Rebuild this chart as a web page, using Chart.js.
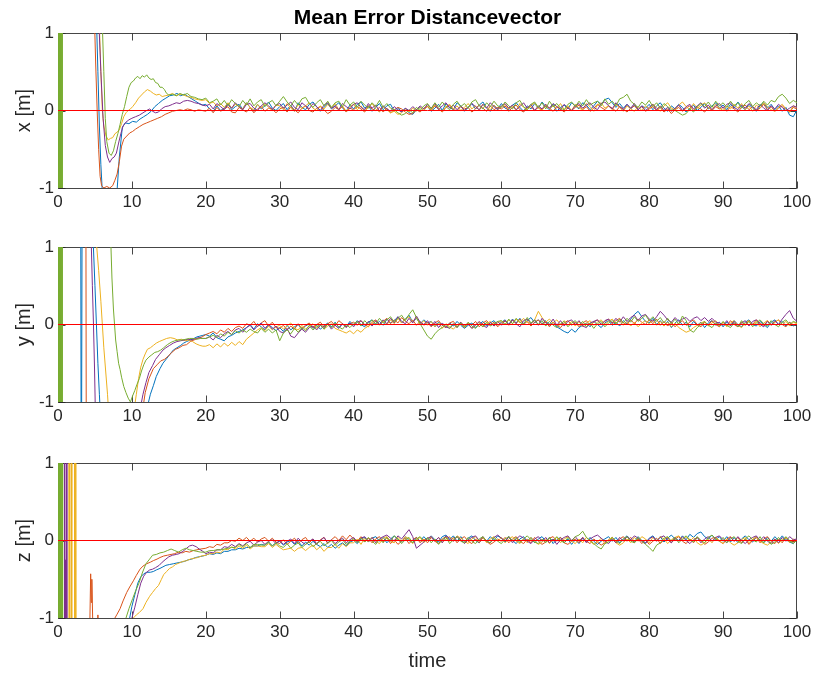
<!DOCTYPE html>
<html>
<head>
<meta charset="utf-8">
<script src="https://cdn.jsdelivr.net/npm/chart.js@4/dist/chart.umd.min.js"></script>
<style>
  html, body { margin: 0; padding: 0; background: #fff; }
  #wrap { position: relative; width: 818px; height: 677px; overflow: hidden; }
  #wrap canvas { position: absolute; left: 0; }
</style>
</head>
<body>
<div id="wrap">
  <canvas id="panelX" width="818" height="225" style="top:0px;width:818px;height:225px"></canvas>
  <canvas id="panelY" width="818" height="220" style="top:225px;width:818px;height:220px"></canvas>
  <canvas id="panelZ" width="818" height="232" style="top:445px;width:818px;height:232px"></canvas>
</div>
<script>
// ---- axis ticks and texts ----
const timeTicks = [0, 10, 20, 30, 40, 50, 60, 70, 80, 90, 100];
const errTicks = [-1, 0, 1];
const titleText = 'Mean Error Distancevector';
const axisLabels = ['x [m]', 'y [m]', 'z [m]'];
const timeLabel = 'time';

// ---- start-up phase (t < 20 s): [time, error in m]; values beyond +-1 leave the axes ----
const startBurst = [[0,3],[0.05,-3],[0.1,3],[0.15,-3],[0.2,3],[0.25,-3],[0.3,3],[0.35,-3],[0.4,3],[0.45,-3],[0.5,3],[0.55,-3],[0.6,3]];

const xBlueEarly = [[0.3,3],[5.0,3],[5.2,1.2],[5.4,0.5],[5.6,-0.2],[5.8,-0.7],[6.0,-1.05],[6.5,-1.3],[7.2,-1.35],[7.7,-1.2],[8.0,-1.02],[8.3,-0.6],[8.7,-0.22],[9.1,-0.16],[9.6,-0.17],[10.1,-0.14],[10.6,-0.15],[11.1,-0.11],[11.6,-0.08],[12.1,-0.05],[12.6,-0.01],[13.1,0.05],[13.6,0.09],[14.1,0.13],[14.6,0.16],[15.1,0.19],[15.6,0.2],[16.1,0.22],[16.6,0.19],[17.1,0.21],[17.6,0.18],[18.1,0.15],[18.6,0.12],[19.1,0.09],[19.6,0.07]];
const xOrangeEarly = [[0.3,3],[4.7,3],[4.9,1.3],[5.1,0.6],[5.3,0.0],[5.5,-0.5],[5.7,-0.85],[5.9,-0.97],[6.2,-1.0],[6.6,-0.98],[7.0,-1.0],[7.4,-0.97],[7.7,-0.9],[8.0,-0.82],[8.3,-0.66],[8.6,-0.46],[8.9,-0.37],[9.3,-0.33],[9.7,-0.29],[10.1,-0.27],[10.5,-0.24],[11.0,-0.21],[11.5,-0.18],[12.0,-0.16],[12.5,-0.14],[13.0,-0.12],[13.5,-0.1],[14.0,-0.08],[14.5,-0.05],[15.0,-0.03],[15.5,-0.01],[16.0,0.0],[16.5,0.01],[17.0,0.0],[17.5,0.02],[18.0,0.01],[18.5,-0.01],[19.0,0.01],[19.5,0.0]];
const xYellowEarly = [[0.3,3],[5.4,3],[5.6,1.1],[5.8,0.5],[6.0,0.0],[6.2,-0.2],[6.5,-0.33],[6.8,-0.38],[7.1,-0.36],[7.4,-0.35],[7.7,-0.3],[8.0,-0.28],[8.3,-0.25],[8.6,-0.17],[8.9,-0.08],[9.2,-0.03],[9.5,0.0],[9.8,0.02],[10.1,0.05],[10.5,0.1],[10.9,0.16],[11.3,0.2],[11.7,0.24],[12.1,0.27],[12.5,0.25],[12.9,0.22],[13.3,0.2],[13.7,0.21],[14.1,0.18],[14.5,0.19],[15.0,0.2],[15.5,0.22],[16.0,0.19],[16.5,0.21],[17.0,0.2],[17.5,0.18],[18.0,0.17],[18.5,0.15],[19.0,0.14],[19.5,0.13]];
const xPurpleEarly = [[0.3,3],[5.3,3],[5.5,1.2],[5.8,0.5],[6.1,-0.1],[6.4,-0.45],[6.7,-0.6],[7.0,-0.67],[7.3,-0.62],[7.6,-0.6],[7.9,-0.55],[8.2,-0.42],[8.5,-0.3],[8.8,-0.2],[9.2,-0.15],[9.6,-0.12],[10.0,-0.1],[10.5,-0.08],[11.0,-0.06],[11.5,-0.03],[12.0,0.0],[12.4,0.02],[12.8,-0.01],[13.2,-0.03],[13.6,-0.02],[14.0,0.02],[14.5,0.05],[15.0,0.06],[15.5,0.08],[16.0,0.1],[16.5,0.09],[17.0,0.12],[17.5,0.13],[18.0,0.12],[18.5,0.1],[19.0,0.09],[19.5,0.07]];
const xGreenEarly = [...startBurst, [5.8,3],[6.0,1.1],[6.2,0.5],[6.4,-0.1],[6.6,-0.4],[6.9,-0.55],[7.2,-0.58],[7.5,-0.52],[7.8,-0.4],[8.1,-0.3],[8.4,-0.18],[8.7,-0.05],[9.0,0.05],[9.3,0.18],[9.6,0.3],[9.9,0.36],[10.2,0.38],[10.5,0.42],[10.8,0.44],[11.1,0.41],[11.4,0.45],[11.7,0.43],[12.0,0.46],[12.3,0.42],[12.6,0.4],[12.9,0.41],[13.2,0.36],[13.5,0.35],[13.8,0.3],[14.1,0.3],[14.4,0.27],[14.7,0.22],[15.0,0.2],[15.5,0.21],[16.0,0.19],[16.5,0.22],[17.0,0.2],[17.5,0.22],[18.0,0.18],[18.5,0.17],[19.0,0.15],[19.5,0.14]];

const yBlueEarly = [[0.3,3],[3.05,3],[3.15,-3],[3.3,3],[4.6,3],[4.75,1.1],[5.0,0.5],[5.2,0.0],[5.4,-0.5],[5.6,-0.9],[5.8,-1.3],[6.2,-3],[11.6,-3],[12.2,-1.02],[12.5,-0.9],[12.9,-0.79],[13.3,-0.67],[13.8,-0.57],[14.2,-0.5],[14.7,-0.44],[15.1,-0.39],[15.6,-0.33],[16.1,-0.3],[16.6,-0.27],[17.0,-0.24],[17.4,-0.22],[17.9,-0.2],[18.4,-0.18],[18.8,-0.16],[19.2,-0.15],[19.6,-0.14]];
const yOrangeEarly = [[0.3,3],[3.75,3],[3.85,-3],[10.5,-3],[11.3,-1.2],[11.8,-0.88],[12.3,-0.7],[12.9,-0.57],[13.4,-0.52],[13.9,-0.47],[14.4,-0.45],[14.9,-0.41],[15.4,-0.36],[15.9,-0.32],[16.4,-0.3],[16.9,-0.27],[17.4,-0.26],[17.9,-0.22],[18.4,-0.2],[18.9,-0.18],[19.5,-0.16]];
const yYellowEarly = [[0.3,3],[5.05,3],[5.2,1.05],[5.5,0.7],[5.8,0.3],[6.0,0.0],[6.2,-0.3],[6.45,-0.6],[6.7,-0.9],[6.9,-1.2],[7.3,-3],[9.5,-3],[10.3,-1.1],[10.6,-0.9],[10.9,-0.7],[11.2,-0.55],[11.5,-0.45],[11.8,-0.38],[12.1,-0.32],[12.5,-0.3],[12.9,-0.27],[13.3,-0.24],[13.7,-0.22],[14.2,-0.2],[14.7,-0.18],[15.2,-0.17],[15.7,-0.18],[16.2,-0.2],[16.7,-0.19],[17.2,-0.21],[17.7,-0.2],[18.2,-0.22],[18.7,-0.25],[19.2,-0.27],[19.6,-0.28]];
const yPurpleEarly = [[0.3,3],[4.4,3],[4.5,1.05],[4.65,0.5],[4.8,0.0],[4.95,-0.6],[5.05,-1.1],[5.3,-3],[10.5,-3],[11.2,-1.05],[11.5,-0.9],[11.9,-0.75],[12.3,-0.62],[12.8,-0.53],[13.2,-0.45],[13.7,-0.39],[14.2,-0.33],[14.6,-0.3],[15.1,-0.27],[15.6,-0.24],[16.1,-0.22],[16.6,-0.21],[17.1,-0.2],[17.6,-0.19],[18.1,-0.2],[18.6,-0.18],[19.1,-0.17],[19.5,-0.18]];
const yGreenEarly = [...startBurst, [7.0,3],[7.15,1.05],[7.3,0.6],[7.5,0.2],[7.65,0.0],[7.8,-0.2],[8.0,-0.35],[8.2,-0.5],[8.4,-0.58],[8.6,-0.68],[8.9,-0.8],[9.2,-0.88],[9.5,-0.95],[9.8,-1.0],[10.1,-0.92],[10.4,-0.85],[10.7,-0.77],[11.0,-0.7],[11.3,-0.6],[11.6,-0.52],[11.9,-0.46],[12.3,-0.42],[12.7,-0.39],[13.1,-0.36],[13.5,-0.35],[13.9,-0.33],[14.3,-0.3],[14.8,-0.26],[15.3,-0.23],[15.8,-0.21],[16.3,-0.2],[16.8,-0.2],[17.3,-0.19],[17.8,-0.18],[18.3,-0.18],[18.8,-0.19],[19.3,-0.18]];

const zBlueEarly = [[0.2,3],[0.4,-3],[9.2,-3],[9.7,-1.0],[10.0,-0.85],[10.4,-0.7],[10.8,-0.55],[11.2,-0.47],[11.6,-0.43],[12.0,-0.41],[12.5,-0.41],[12.9,-0.4],[13.3,-0.38],[13.8,-0.36],[14.2,-0.34],[14.6,-0.32],[15.1,-0.31],[15.6,-0.3],[16.1,-0.29],[16.6,-0.28],[17.1,-0.27],[17.6,-0.25],[18.1,-0.24],[18.6,-0.22],[19.1,-0.21],[19.6,-0.2]];
const zOrangeEarly = [[0.25,3],[0.45,-3],[4.2,-3],[4.32,-1.0],[4.42,-0.43],[4.5,-0.8],[4.58,-0.5],[4.7,-1.05],[4.8,-3],[5.3,-3],[5.4,-0.96],[5.5,-3],[7.3,-3],[7.7,-1.0],[8.0,-0.95],[8.4,-0.88],[8.8,-0.78],[9.3,-0.67],[9.7,-0.6],[10.2,-0.52],[10.6,-0.45],[11.1,-0.37],[11.5,-0.33],[12.0,-0.3],[12.5,-0.28],[12.9,-0.26],[13.4,-0.24],[13.8,-0.22],[14.3,-0.2],[14.8,-0.19],[15.3,-0.18],[15.8,-0.17],[16.3,-0.15],[16.8,-0.16],[17.3,-0.14],[17.8,-0.15],[18.3,-0.13],[18.8,-0.12],[19.3,-0.11]];
const zYellowEarly = [[0.3,3],[1.45,3],[1.5,-3],[1.55,3],[1.6,-3],[1.75,-3],[1.8,3],[1.85,-3],[1.9,3],[2.2,3],[2.25,-3],[2.3,3],[2.35,-3],[2.4,3],[2.45,-3],[9.9,-3],[10.2,-1.0],[10.6,-0.96],[11.0,-0.93],[11.5,-0.88],[11.9,-0.8],[12.4,-0.72],[12.8,-0.67],[13.2,-0.62],[13.6,-0.58],[14.0,-0.5],[14.3,-0.44],[14.7,-0.4],[15.1,-0.36],[15.5,-0.34],[15.9,-0.31],[16.4,-0.29],[16.9,-0.27],[17.4,-0.26],[17.9,-0.24],[18.4,-0.23],[18.9,-0.22],[19.4,-0.2]];
const zPurpleEarly = [[0.3,3],[0.85,3],[0.9,-3],[1.0,-0.25],[1.05,-3],[1.15,3],[1.2,-3],[9.6,-3],[10.0,-1.0],[10.4,-0.86],[10.8,-0.7],[11.2,-0.55],[11.6,-0.46],[12.0,-0.41],[12.4,-0.38],[12.8,-0.37],[13.2,-0.35],[13.7,-0.32],[14.1,-0.28],[14.6,-0.24],[15.0,-0.21],[15.5,-0.19],[16.0,-0.18],[16.4,-0.17],[16.9,-0.14],[17.4,-0.1],[17.8,-0.07],[18.2,-0.06],[18.7,-0.08],[19.1,-0.11],[19.6,-0.14]];
const zGreenEarly = [...startBurst, [0.65,-3],[8.8,-3],[9.2,-1.0],[9.6,-0.88],[10.1,-0.75],[10.5,-0.65],[11.0,-0.54],[11.4,-0.42],[11.9,-0.3],[12.4,-0.24],[12.8,-0.19],[13.3,-0.18],[13.8,-0.16],[14.3,-0.15],[14.8,-0.13],[15.3,-0.11],[15.8,-0.13],[16.3,-0.15],[16.8,-0.12],[17.3,-0.1],[17.8,-0.12],[18.3,-0.13],[18.8,-0.14],[19.3,-0.15]];

// ---- settled phase: errors in cm, one sample every 0.5 s from t = 20 s to t = 100 s ----
const SETTLED_START = 20;
const SETTLED_STEP = 0.5;

const xBlueCm = [8,2,-1,6,0,3,9,1,5,8,2,10,4,-1,8,2,6,11,3,0, 5,9,1,7,-1,10,4,1,8,11,5,-1,4,9,2,6,10,3,-1,7, 2,8,11,3,6,-1,4,9,1,6,8,-1,4,-2,3,-3,-5,1,4,0, 6,-1,3,8,0,9,4,1,10,6,-1,4,9,2,7,11,3,-1,7,2, 9,3,1,7,10,4,-1,6,2,9,3,11,5,1,8,-1,4,7,2,10, 6,2,10,7,1,6,12,8,14,16,10,4,9,3,8,2,7,1,6,3, 8,1,6,10,3,-1,6,2,8,4,-2,3,7,0,4,9,2,6,10,3, 7,1,8,3,11,5,1,8,3,-1,6,10,3,8,1,6,-1,4,-6,-8, 1];
const xOrangeCm = [-1,3,-3,4,-1,2,5,-2,-3,4,1,-2,4,-3,2,5,-1,3,2,-3, 2,4,-2,5,1,-3,3,6,0,-2,3,5,1,-4,-1,4,1,5,-2,3, 1,5,2,-2,6,2,0,4,-2,3,-3,1,4,2,-2,-5,-4,1,-2,3, 5,0,6,2,-2,4,7,1,0,5,2,4,-2,2,7,3,-1,6,1,4, 2,6,-1,4,7,1,-2,4,5,0,4,1,6,3,-1,5,2,-2,4,0, 4,7,1,5,-1,3,8,4,1,6,3,-1,5,2,-2,3,6,1,5,-1, 2,5,0,4,-2,2,-4,1,4,-1,3,6,0,4,2,-2,4,0,5,2, 4,-1,5,2,-2,4,7,1,5,0,3,8,1,5,-1,3,6,2,-2,4, 2];
const xYellowCm = [14,9,11,6,9,4,10,3,8,5,2,10,4,1,8,3,9,4,0,7, 6,1,9,3,-1,8,2,6,10,3,0,6,2,8,3,9,1,6,-1,5, 8,1,6,-1,4,9,2,-2,5,1,-3,-1,-5,-3,2,-2,3,-1,4,0, 6,1,7,2,-1,5,8,2,6,0,4,9,2,6,0,8,4,1,7,1, 5,8,2,6,0,9,4,1,6,10,3,0,8,2,6,3,9,1,6,0, 8,3,1,9,5,-1,7,10,3,6,1,8,4,-1,6,2,-1,5,0,6, 2,8,4,-1,6,10,3,1,7,11,5,1,9,3,7,10,4,1,8,3, 0,6,2,8,3,9,1,6,-1,7,3,10,5,1,-1,4,8,2,-2,6, 4];
const xPurpleCm = [6,8,2,9,5,1,8,3,10,5,1,8,9,3,0,6,10,6,1,7, 9,3,7,11,4,1,10,6,2,9,5,0,7,10,3,6,1,9,5,2, 8,10,4,1,9,3,7,-1,6,2,-1,5,1,-2,3,0,5,1,6,2, 8,3,9,1,6,10,3,7,1,6,0,4,9,5,1,8,3,10,5,1, 6,9,3,7,1,5,10,3,8,0,6,2,8,3,9,5,1,8,3,0, 6,9,3,7,10,4,1,9,11,6,2,10,5,1,8,3,9,1,6,0, 4,8,1,6,0,4,-1,3,7,0,5,8,2,6,10,3,7,1,6,9, 3,8,10,4,1,7,3,9,5,1,8,3,0,6,2,8,4,0,3,6, 4];
const xGreenCm = [16,10,12,15,7,13,6,14,9,5,13,7,15,6,11,14,5,10,13,6, 12,18,11,6,13,7,15,17,9,4,10,14,6,12,4,10,12,5,14,7, 11,4,12,7,3,10,5,13,4,9,3,1,-3,-6,-4,1,-3,4,0,6, 9,2,10,4,11,5,1,8,12,5,9,3,11,14,6,2,10,5,12,6, 4,11,6,2,10,13,5,1,8,11,4,10,2,12,5,9,3,1,8,11, 5,12,6,14,7,10,12,6,15,8,12,6,15,17,21,12,8,4,11,7, 13,5,10,3,9,5,1,0,-3,-6,-4,2,-2,5,9,5,11,4,12,6, 10,4,12,6,10,3,9,13,5,10,6,12,7,13,11,18,21,16,9,13, 10];

const yBlueCm = [-13,-15,-11,-17,-19,-21,-16,-14,-11,-9,-7,-4,0,-6,1,-3,-7,0,-4,-8, -4,-9,-1,-7,-3,0,-6,-2,1,-5,-1,-6,-2,2,-3,3,-4,1,-3,4, -1,5,0,-3,3,6,0,4,-1,7,2,5,10,2,7,12,3,8,1,6, 2,4,-3,3,-1,-4,2,-2,4,-1,-5,-1,2,-4,0,4,-2,2,5,-1, 3,6,0,7,2,8,1,5,9,2,6,1,5,-1,3,-3,-6,-9,-11,-6, -10,-4,-1,2,-3,4,0,-4,2,5,-1,3,-2,5,1,7,13,17,10,4, 2,8,0,5,-2,4,-4,2,6,-1,3,-3,4,-1,3,-4,2,5,-1,3, -3,3,-1,5,0,-3,3,6,0,-2,4,0,-4,3,6,0,4,-2,3,-2, 1];
const yOrangeCm = [-13,-11,-9,-12,-7,-10,-5,-9,-4,-2,-5,1,-1,4,-3,2,5,-2,3,-4, -5,-1,-7,-2,-6,1,-5,-1,2,-4,0,3,-3,1,4,-2,5,1,-3,1, 3,-1,5,0,-3,3,6,0,4,8,1,6,2,9,4,1,6,-1,4,-1, 3,-3,2,5,-1,-4,2,4,-3,1,-4,2,-1,4,-3,2,5,-1,3,-3, 2,5,-1,6,1,7,0,4,-2,3,6,0,4,-3,3,-1,-4,2,5,-1, 3,-3,2,5,-1,3,6,0,4,7,1,5,8,2,0,6,1,7,3,0, 6,1,7,-1,4,-2,3,-3,2,5,-1,3,6,0,-3,3,-1,5,0,-3, 3,-2,5,0,-3,3,-1,5,0,6,2,-2,5,0,3,6,0,-3,3,-1, 1];
const yYellowCm = [-28,-26,-30,-25,-29,-24,-28,-23,-27,-22,-26,-19,-15,-11,-7,-4,-8,-2,-7,-3, -1,-6,-2,2,-5,-7,-1,-6,-2,1,-5,-1,-6,-2,1,-5,-7,-9,-11,-8, -12,-7,-10,-5,-2,1,4,-1,5,0,6,1,8,2,7,10,3,9,0,5, -1,4,-3,2,-5,1,-3,-6,-1,3,-4,1,-5,-1,3,-3,1,4,-2,2, 5,0,6,1,7,2,8,3,1,6,17,9,3,7,2,6,0,5,-1,4, -2,4,-3,2,5,-1,3,6,0,4,7,1,5,-1,4,-2,3,-3,2,5, 1,6,-1,4,-2,3,-3,2,-4,-7,-10,-8,-4,-1,2,4,-2,2,5,-1, 3,-3,2,5,-1,-4,2,5,-1,4,-3,2,5,-1,3,6,0,4,-2,3, 1];
const yPurpleCm = [-18,-16,-20,-14,-17,-12,-9,-13,-7,-5,-10,-4,-1,-7,-2,2,-5,0,-6,-2, -9,-11,-5,-15,-17,-11,-6,-10,-4,-2,-7,-1,-5,1,-6,-1,-5,1,-4,2, -3,3,5,-1,4,-2,5,0,6,1,8,2,10,4,1,8,2,11,3,0, 5,-2,4,-4,2,-3,-5,1,-4,3,-2,1,-5,-1,4,-1,-4,3,-2,4, -1,5,0,6,1,-3,5,7,1,6,-1,8,2,0,7,-1,5,-2,4,6, 0,5,-2,-4,2,4,6,0,5,7,2,8,3,10,4,9,12,5,11,13, 7,4,10,17,12,6,3,9,4,7,9,4,8,10,5,9,4,8,3,2, -1,5,-2,4,-3,2,5,-2,4,6,0,-3,4,-1,5,0,7,13,18,8, 4];
const yGreenCm = [-18,-16,-14,-17,-12,-15,-10,-13,-8,-11,-7,-10,-6,-9,-11,-5,-10,-6,-11,-7, -21,-11,-7,-12,-5,-10,-4,-8,-1,-7,-3,0,-6,1,-4,2,-3,-6,0,-4, 1,4,-2,5,0,6,1,8,2,6,10,3,8,12,5,13,19,9,1,-7, -15,-19,-12,-7,-4,0,-5,1,-4,2,-3,3,-2,-5,1,-3,3,-2,1,4, 5,0,7,1,8,3,0,9,2,6,0,5,-2,4,-1,-4,1,4,-3,2, 5,-1,4,-3,2,-5,1,4,-3,2,5,1,7,2,8,3,10,4,8,12, 5,10,4,9,2,8,1,7,0,11,5,-7,-10,-4,0,4,-1,-4,2,-2, 4,-1,-4,2,-3,5,-1,4,-3,2,6,1,-2,5,0,-3,3,6,0,4, 2];

const zBlueCm = [-19,-17,-18,-16,-17,-14,-14,-12,-12,-10,-11,-9,-9,-7,-7,-5,-6,-2,-7,-3, -1,-6,-2,0,-5,-1,-7,-2,-6,-1,-5,-8,-4,-9,-5,-10,-6,-3,-7,-2, 0,-4,2,4,-2,3,5,-1,4,-3,2,6,1,-2,5,0,-3,4,-1,5, 0,6,1,-2,5,7,1,6,-1,5,-2,3,6,0,-3,4,-1,5,0,6, 3,-2,5,0,-4,2,5,-1,4,-3,2,5,-1,4,-4,1,4,-3,2,-5, 1,-4,3,-2,4,-1,-5,-1,2,5,-1,4,-3,2,6,1,-2,5,0,-3, 3,6,0,5,-2,3,7,2,0,6,1,8,4,9,11,5,2,7,1,5, -1,5,-2,4,-3,2,6,1,-2,5,0,-3,4,-1,5,0,6,1,-2,-4, 1];
const zOrangeCm = [-10,-8,-9,-5,-6,-3,-3,0,-1,3,0,4,-1,3,-2,2,4,-1,3,-2, -4,1,-5,-1,3,-4,1,4,-3,2,-5,1,4,-4,1,5,0,6,1,7, 2,-1,5,-2,3,-3,2,5,-2,4,-4,1,-5,-1,3,-4,1,4,-3,2, -3,4,-1,-4,2,5,-1,4,-3,2,5,-1,-4,2,-3,4,-1,-5,-2,2, -1,4,-3,2,5,-1,-4,2,-3,4,-1,-5,-2,3,5,-1,4,-3,-5,-1, 2,-3,4,-1,-4,2,-2,-6,-3,1,4,-3,2,5,-1,4,-3,2,-4,1, -5,-1,3,-4,1,4,-3,2,5,-1,-4,2,-3,4,0,-5,-2,3,4,-1, -4,2,5,-1,4,-3,2,-5,0,4,-3,2,5,-1,-4,2,-3,4,-1,-2, 0];
const zYellowCm = [-19,-17,-17,-15,-16,-11,-12,-8,-11,-7,-10,-6,-11,-7,-7,-8,-8,-4,-9,-5, -9,-12,-11,-10,-14,-10,-9,-13,-9,-6,-12,-8,-14,-9,-9,-5,-10,-4,-8,-3, -3,2,-5,3,-2,4,-1,-4,3,5,-1,-3,4,-1,5,2,-4,1,4,-3, 2,5,-1,4,-3,2,5,-1,6,3,-1,-4,2,5,-1,4,-3,2,5,-1, 4,-3,2,5,-1,-4,2,-3,4,-1,-5,-2,2,-4,1,4,-3,2,5,-1, -4,2,-3,4,-1,-5,-2,3,-4,1,4,-3,-6,-3,2,-3,4,-1,5,2, -3,4,-1,5,2,-4,1,4,6,1,5,-1,4,-3,-6,-3,2,-3,4,0, -4,2,-3,-6,-3,1,4,-3,2,5,-1,-4,-6,-2,2,-4,1,4,-3,2, 0];
const zPurpleCm = [-17,-15,-16,-12,-12,-8,-9,-5,-8,-4,-7,-3,-1,-6,-2,0,-5,-1,1,-4, 0,-5,-1,2,-4,3,-2,-5,-1,2,-4,0,4,-3,1,-4,0,3,-3,1, 4,-2,3,5,-1,4,-3,2,5,7,3,-1,6,2,8,14,5,-10,-6,-2, 3,5,-1,4,-3,6,3,-1,5,1,-4,1,4,6,0,5,-1,-3,4,7, 3,-1,5,-3,2,6,3,-1,-4,2,5,-1,4,-3,2,-5,1,4,6,0, 5,-1,4,-3,2,5,7,3,-1,-4,2,-3,4,-1,5,1,6,3,-1,-4, 2,5,-1,4,6,1,-3,4,-1,5,0,-4,1,4,-3,2,5,-1,4,6, 1,-3,4,-1,5,0,-4,1,4,6,0,5,-1,-4,2,-3,4,-1,5,1, 2];
const zGreenCm = [-15,-13,-13,-12,-12,-11,-10,-9,-9,-5,-8,-4,-9,-5,-5,-6,-6,-2,-7,-3, -7,-9,-4,-10,-6,-3,-9,-5,-2,-8,-4,-1,-7,-3,0,-6,-2,1,-5,-1, 2,-3,3,-2,4,-1,-5,2,-3,4,-1,6,2,-4,1,4,-3,2,5,-1, 4,-3,2,-5,1,4,-4,1,5,-1,-3,4,-1,-4,2,5,-1,-3,4,-1, -4,2,5,-1,4,-3,2,6,1,-2,-4,2,-3,4,-1,5,0,-3,4,-1, 5,7,12,4,0,-4,-8,-11,-4,-2,4,-1,-4,2,5,-1,-3,4,-1,-5, -9,-14,-6,-3,3,5,-1,4,-3,2,6,1,-2,5,0,-3,4,7,2,-1, 4,-3,2,5,-1,-4,2,6,1,-2,5,-3,2,-5,-2,4,-1,5,0,-4, 1];

// zero reference
const refLine = [[0,0],[100,0]];

// ---- styling ----
const COLORS = {
  blue: '#0072BD', orange: '#D95319', yellow: '#EDB120',
  purple: '#7E2F8E', green: '#77AC30', ref: '#FF0000'
};
const FONT = '"Liberation Sans", Arial, Helvetica, sans-serif';
const TEXT_COLOR = '#262626';

function toPoints(early, settledCm) {
  const pts = early.map(([t, v]) => ({ x: t, y: v }));
  settledCm.forEach((c, i) => pts.push({ x: SETTLED_START + i * SETTLED_STEP, y: c / 100 }));
  return pts;
}

// box around the axes with inward tick marks on all four sides
const axesBox = {
  id: 'axesBox',
  beforeDatasetsDraw(chart) {
    const { ctx, chartArea: a, scales: { x, y } } = chart;
    const L = Math.round(a.left) + 0.5, R = Math.round(a.right) - 0.5;
    const T = Math.round(a.top) + 0.5, B = Math.round(a.bottom) + 0.5;
    const len = 7;
    ctx.save();
    ctx.strokeStyle = 'rgba(38,38,38,0.85)';
    ctx.lineWidth = 1;
    ctx.beginPath();
    ctx.rect(L, T, R - L, B - T);
    timeTicks.forEach(v => {
      const px = Math.round(x.getPixelForValue(v)) + 0.5;
      ctx.moveTo(px, B); ctx.lineTo(px, B - len);
      ctx.moveTo(px, T); ctx.lineTo(px, T + len);
    });
    errTicks.forEach(v => {
      const py = Math.round(y.getPixelForValue(v)) + 0.5;
      ctx.moveTo(L, py); ctx.lineTo(L + len, py);
      ctx.moveTo(R, py); ctx.lineTo(R - len, py);
    });
    ctx.stroke();
    ctx.restore();
  }
};

function makePanel(canvasId, cfg) {
  const traces = [
    { data: toPoints(cfg.blue[0], cfg.blue[1]), color: COLORS.blue, order: 5 },
    { data: toPoints(cfg.orange[0], cfg.orange[1]), color: COLORS.orange, order: 4 },
    { data: toPoints(cfg.yellow[0], cfg.yellow[1]), color: COLORS.yellow, order: 3 },
    { data: toPoints(cfg.purple[0], cfg.purple[1]), color: COLORS.purple, order: 2 },
    { data: toPoints(cfg.green[0], cfg.green[1]), color: COLORS.green, order: 1 },
    { data: refLine.map(([t, v]) => ({ x: t, y: v })), color: COLORS.ref, order: 0 }
  ];
  return new Chart(document.getElementById(canvasId), {
    type: 'line',
    data: {
      datasets: traces.map(tr => ({
        data: tr.data,
        borderColor: tr.color,
        backgroundColor: tr.color,
        borderWidth: 1,
        pointRadius: 0,
        tension: 0,
        fill: false,
        order: tr.order,
        clip: 0
      }))
    },
    options: {
      responsive: false,
      devicePixelRatio: 1,
      animation: false,
      events: [],
      parsing: false,
      layout: { padding: { left: 0, right: 21, top: cfg.padTop, bottom: 0 } },
      plugins: {
        legend: { display: false },
        tooltip: { enabled: false },
        title: {
          display: !!cfg.title,
          text: cfg.title || '',
          fullSize: false,
          color: '#000',
          font: { family: FONT, size: 21, weight: 'bold', lineHeight: '19px' },
          padding: { top: 9, bottom: 5 }
        }
      },
      scales: {
        x: {
          type: 'linear',
          min: 0, max: 100,
          grid: { display: false, drawTicks: false },
          border: { display: false },
          afterBuildTicks: s => { s.ticks = timeTicks.map(v => ({ value: v })); },
          afterFit: s => { s.height = cfg.xAxisHeight; },
          ticks: {
            autoSkip: false, maxRotation: 0, padding: 4,
            color: TEXT_COLOR,
            font: { family: FONT, size: 17 },
            callback: v => String(v)
          },
          title: {
            display: !!cfg.xTitle,
            text: cfg.xTitle || '',
            color: TEXT_COLOR,
            font: { family: FONT, size: 20 },
            padding: { top: 0, bottom: 4 }
          }
        },
        y: {
          type: 'linear',
          min: -1, max: 1,
          grid: { display: false, drawTicks: false },
          border: { display: false },
          afterBuildTicks: s => { s.ticks = errTicks.map(v => ({ value: v })); },
          afterFit: s => { s.width = 58; },
          ticks: {
            padding: 4,
            color: TEXT_COLOR,
            font: { family: FONT, size: 17 },
            callback: v => String(v)
          },
          title: {
            display: true,
            text: cfg.yTitle,
            color: TEXT_COLOR,
            font: { family: FONT, size: 20 },
            padding: { top: 12, bottom: 0 }
          }
        }
      }
    },
    plugins: [axesBox]
  });
}

makePanel('panelX', {
  title: titleText, yTitle: axisLabels[0], padTop: 0, xAxisHeight: 37,
  blue: [xBlueEarly, xBlueCm], orange: [xOrangeEarly, xOrangeCm], yellow: [xYellowEarly, xYellowCm],
  purple: [xPurpleEarly, xPurpleCm], green: [xGreenEarly, xGreenCm]
});
makePanel('panelY', {
  yTitle: axisLabels[1], padTop: 22, xAxisHeight: 43,
  blue: [yBlueEarly, yBlueCm], orange: [yOrangeEarly, yOrangeCm], yellow: [yYellowEarly, yYellowCm],
  purple: [yPurpleEarly, yPurpleCm], green: [yGreenEarly, yGreenCm]
});
makePanel('panelZ', {
  yTitle: axisLabels[2], xTitle: timeLabel, padTop: 18, xAxisHeight: 59,
  blue: [zBlueEarly, zBlueCm], orange: [zOrangeEarly, zOrangeCm], yellow: [zYellowEarly, zYellowCm],
  purple: [zPurpleEarly, zPurpleCm], green: [zGreenEarly, zGreenCm]
});
</script>
</body>
</html>
